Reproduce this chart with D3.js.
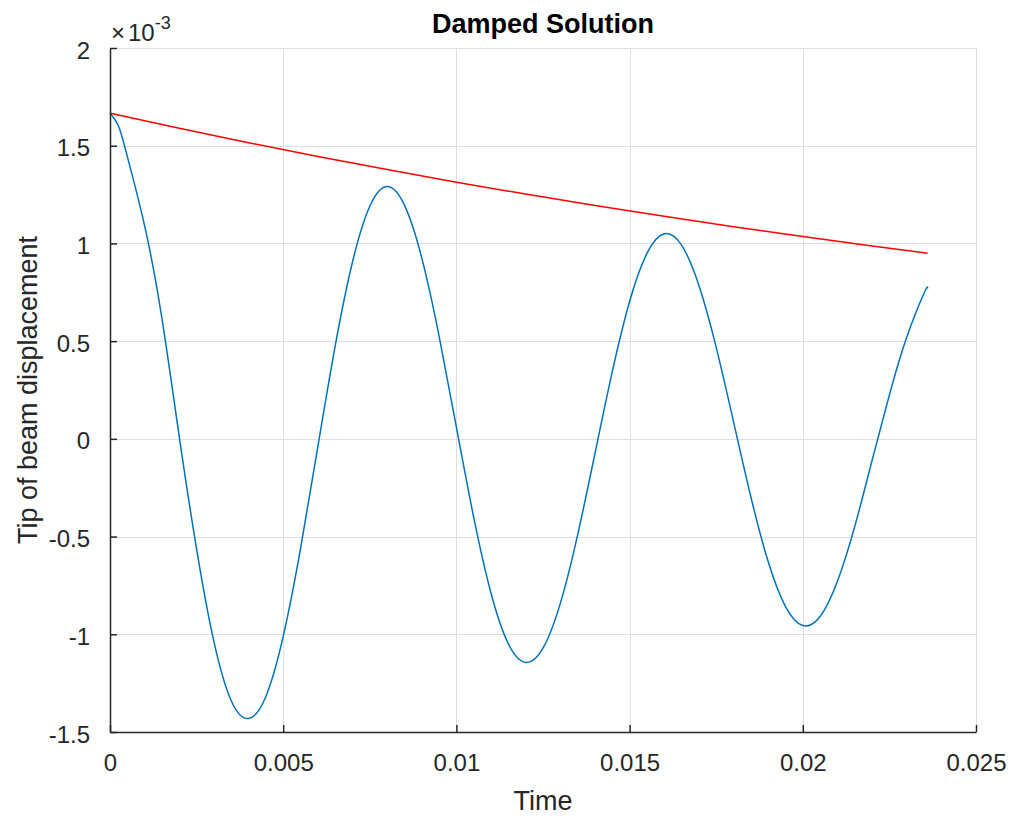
<!DOCTYPE html>
<html>
<head>
<meta charset="utf-8">
<script src="https://cdn.jsdelivr.net/npm/d3@7"></script>
<style>
  html, body { margin: 0; padding: 0; background: #fff; }
  svg { display: block; font-family: "Liberation Sans", Arial, Helvetica, sans-serif; }
</style>
</head>
<body>
<svg id="chart" width="1016" height="823"></svg>
<script>
// ---- data (displacement values in units of 1e-3) ----
const chartTitle = "Damped Solution";
const xLabel = "Time";
const yLabel = "Tip of beam displacement";
const yExponent = "-3";

const xTicks = [0, 0.005, 0.01, 0.015, 0.02, 0.025];
const xTickLabels = ["0", "0.005", "0.01", "0.015", "0.02", "0.025"];
const yTicks = [-1.5, -1, -0.5, 0, 0.5, 1, 1.5, 2];
const yTickLabels = ["-1.5", "-1", "-0.5", "0", "0.5", "1", "1.5", "2"];

const timeDamped = [0, 0.00025, 0.0005, 0.001, 0.0015, 0.002, 0.0025, 0.003, 0.0035, 0.004, 0.0045,
  0.005, 0.0055, 0.006, 0.0065, 0.007, 0.0075, 0.008, 0.0085, 0.009, 0.0095,
  0.010, 0.0105, 0.011, 0.0115, 0.012, 0.0125, 0.013, 0.0135, 0.014, 0.0145,
  0.015, 0.0155, 0.016, 0.0165, 0.017, 0.0175, 0.018, 0.0185, 0.019, 0.0195,
  0.020, 0.0205, 0.021, 0.0215, 0.022, 0.0225, 0.023, 0.0235, 0.0236];
const displacement = [1.667, 1.598, 1.445, 1.090, 0.615, 0.010, -0.564, -1.038, -1.340, -1.431, -1.318,
  -1.011, -0.562, -0.040, 0.475, 0.905, 1.190, 1.291, 1.196, 0.926, 0.526,
  0.060, -0.402, -0.790, -1.049, -1.144, -1.071, -0.842, -0.491, -0.075, 0.344,
  0.703, 0.949, 1.049, 0.991, 0.786, 0.468, 0.088, -0.296, -0.628, -0.858,
  -0.955, -0.909, -0.729, -0.448, -0.110, 0.225, 0.520, 0.745, 0.770];

const timeEnvelope = [0, 0.002, 0.004, 0.006, 0.008, 0.010, 0.012, 0.014, 0.016, 0.018, 0.020, 0.022, 0.0236];
const envelope = [1.667, 1.589, 1.515, 1.445, 1.378, 1.3135, 1.2524, 1.1941, 1.1385, 1.0855, 1.035, 0.9869, 0.950];

// ---- layout ----
const svg = d3.select("#chart");
const L = 110, R = 976, T = 48, B = 732;
const textColor = "#262626";

const x = d3.scaleLinear().domain([0, 0.025]).range([L, R]);
const y = d3.scaleLinear().domain([-1.5, 2]).range([B, T]);

// grid
const grid = svg.append("g");
grid.selectAll("line.gx").data(xTicks).enter().append("line")
  .attr("x1", d => Math.round(x(d)) + 0.5).attr("x2", d => Math.round(x(d)) + 0.5)
  .attr("y1", T).attr("y2", B)
  .attr("stroke", "#dfdfdf").attr("stroke-width", 1);
grid.selectAll("line.gy").data(yTicks).enter().append("line")
  .attr("x1", L).attr("x2", R)
  .attr("y1", d => Math.round(y(d)) + 0.5).attr("y2", d => Math.round(y(d)) + 0.5)
  .attr("stroke", "#dfdfdf").attr("stroke-width", 1);

// lines
const lineBlue = d3.line().x((d, i) => x(timeDamped[i])).y(d => y(d)).curve(d3.curveNatural);
svg.append("path").datum(displacement)
  .attr("d", lineBlue).attr("fill", "none")
  .attr("stroke", "#0072BD").attr("stroke-width", 1.5);

const lineRed = d3.line().x((d, i) => x(timeEnvelope[i])).y(d => y(d)).curve(d3.curveMonotoneX);
svg.append("path").datum(envelope)
  .attr("d", lineRed).attr("fill", "none")
  .attr("stroke", "#FF0000").attr("stroke-width", 1.5);

// axes
const xAxis = d3.axisBottom(x).tickValues(xTicks).tickFormat((d, i) => xTickLabels[i])
  .tickSizeInner(-7).tickSizeOuter(0).tickPadding(22);
const gx = svg.append("g").attr("transform", `translate(0,${B})`).call(xAxis);
const yAxis = d3.axisLeft(y).tickValues(yTicks).tickFormat((d, i) => yTickLabels[i])
  .tickSizeInner(-7).tickSizeOuter(0).tickPadding(20);
const gy = svg.append("g").attr("transform", `translate(${L},0)`).call(yAxis);

[gx, gy].forEach(g => {
  g.select(".domain").attr("stroke", "#262626").attr("stroke-width", 1.5);
  g.selectAll(".tick line").attr("stroke", "#262626").attr("stroke-width", 1.5);
  g.selectAll(".tick text").attr("fill", textColor)
    .style("font-size", "24px").style("font-family", "'Liberation Sans', Arial, sans-serif");
});
gy.selectAll(".tick text").attr("dy", "0.42em");

// exponent label
const expo = svg.append("text").attr("x", L + 1).attr("y", 41)
  .attr("fill", textColor).style("font-size", "24px");
expo.append("tspan").text("\u00D7");
expo.append("tspan").attr("dx", 3).text("10");
expo.append("tspan").attr("dy", -12).style("font-size", "18px").text(yExponent);

// title
svg.append("text").attr("x", (L + R) / 2).attr("y", 33)
  .attr("text-anchor", "middle").attr("fill", "#000")
  .style("font-size", "27px").style("font-weight", "bold").text(chartTitle);

// axis labels
svg.append("text").attr("x", (L + R) / 2).attr("y", 810)
  .attr("text-anchor", "middle").attr("fill", textColor)
  .style("font-size", "27px").text(xLabel);
svg.append("text").attr("transform", `translate(37,${(T + B) / 2}) rotate(-90)`)
  .attr("text-anchor", "middle").attr("fill", textColor)
  .style("font-size", "27px").text(yLabel);
</script>
</body>
</html>
